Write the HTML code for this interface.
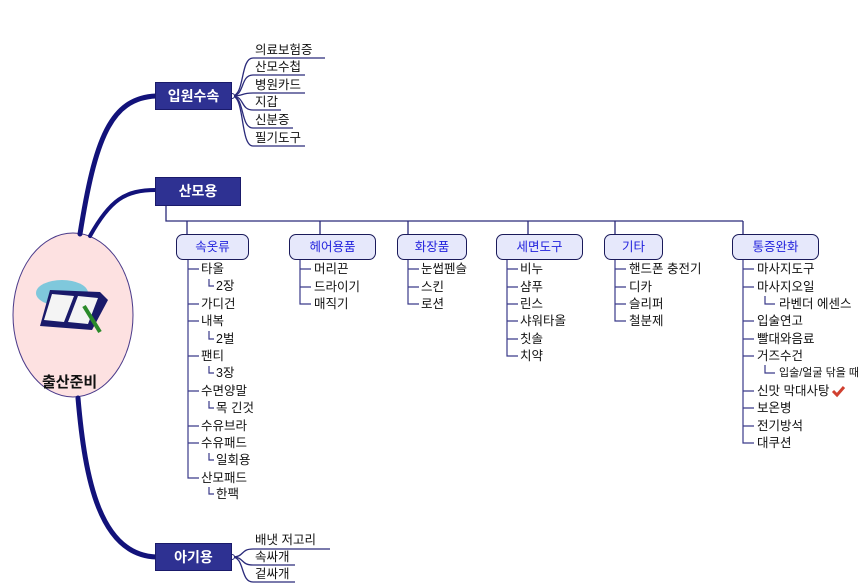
<!DOCTYPE html>
<html><head><meta charset="utf-8"><style>
body{margin:0;background:#fff;width:859px;height:585px;overflow:hidden;position:relative;font-family:"Liberation Sans","Noto Sans CJK KR","NanumGothic",sans-serif;}
.t{position:absolute;font-size:12.5px;color:#111;line-height:14px;white-space:nowrap}
.bx{position:absolute;background:#2e3192;color:#fff;font-weight:bold;font-size:14px;text-align:center;border:1px solid #1a1a6a;box-sizing:border-box}
.cb{position:absolute;background:#e6e8fb;border:1px solid #1a1a5a;border-radius:7px;color:#2222dd;font-size:12.5px;text-align:center;box-sizing:border-box;height:26px;line-height:24px;top:234px}
</style></head><body>
<svg width="859" height="585" style="position:absolute;left:0;top:0">
<ellipse cx="73" cy="315" rx="60" ry="82" fill="#fde1e1" stroke="#4a3a8a" stroke-width="1"/>
<g fill="none" stroke="#12127a" stroke-linecap="round">
<path d="M80 234 C95 140 110 98 156 96" stroke-width="5"/>
<path d="M90 236 C110 200 125 190 156 190" stroke-width="4"/>
<path d="M78 398 C85 480 100 555 156 557" stroke-width="5"/>
</g>
<g fill="none" stroke="#2a2a7a" stroke-width="1.3">
<path d="M232 96 C245 96 240 58 253 58 L325 58"/>
<path d="M232 96 C245 96 240 75 253 75 L305 75"/>
<path d="M232 96 C245 96 240 93 253 93 L305 93"/>
<path d="M232 96 C245 96 240 110 253 110 L281 110"/>
<path d="M232 96 C245 96 240 128 253 128 L293 128"/>
<path d="M232 96 C245 96 240 146 253 146 L305 146"/>
<path d="M232 557 C245 557 240 549 253 549 L330 549"/>
<path d="M232 557 C245 557 240 565 253 565 L295 565"/>
<path d="M232 557 C245 557 240 582 253 582 L295 582"/>
<path d="M166 206 V221 H743 M187 221 V234 M320 221 V234 M408 221 V234 M528 221 V234 M615 221 V234 M743 221 V234"/>
</g>
<g fill="none" stroke="#3a3a8a" stroke-width="1.2">
<path d="M188 260 V478 H199 M188 269 H199 M188 304 H199 M188 321 H199 M188 356 H199 M188 391 H199 M188 426 H199 M188 443 H199"/>
<path d="M209 279 V286 H214 M209 331 V339 H214 M209 366 V373 H214 M209 401 V408 H214 M209 453 V460 H214 M209 487 V494 H214"/>
<path d="M300 260 V304 H311 M300 269 H311 M300 287 H311"/>
<path d="M408 260 V304 H419 M408 269 H419 M408 287 H419"/>
<path d="M507 260 V356 H518 M507 269 H518 M507 287 H518 M507 304 H518 M507 321 H518 M507 339 H518"/>
<path d="M615 260 V321 H626 M615 269 H626 M615 287 H626 M615 304 H626"/>
<path d="M743 260 V443 H754 M743 269 H754 M743 287 H754 M743 321 H754 M743 339 H754 M743 356 H754 M743 391 H754 M743 408 H754 M743 426 H754"/>
<path d="M765 296 V304 H775 M765 365 V373 H775"/>
</g>
<circle cx="232" cy="96" r="2.5" fill="#fff" stroke="#2a2a7a"/>
<circle cx="232" cy="557" r="2.5" fill="#fff" stroke="#2a2a7a"/>
<ellipse cx="62" cy="293" rx="26" ry="13" fill="#7fc8dc"/>
<path d="M50 290 L100 292 L108 300 L92 330 L40 326 Z" fill="#1a1a6a"/>
<path d="M52 294 L74 296 L64 322 L44 320 Z M78 296 L98 298 L88 324 L68 322 Z" fill="#f4f4f4"/>
<path d="M84 306 L100 332" stroke="#2a8a2a" stroke-width="4"/>
<path d="M833 391 l4 4 l7 -8" stroke="#d04030" stroke-width="3" fill="none"/>
</svg>
<div class="t" style="left:42px;top:374px;font-size:15px;line-height:17px;font-weight:bold;">출산준비</div>
<div class="bx" style="left:155px;top:82px;width:77px;height:28px;line-height:26px">입원수속</div>
<div class="bx" style="left:155px;top:177px;width:86px;height:29px;line-height:27px">산모용</div>
<div class="bx" style="left:155px;top:543px;width:77px;height:28px;line-height:26px">아기용</div>
<div class="t" style="left:255px;top:43px">의료보험증</div>
<div class="t" style="left:255px;top:60px">산모수첩</div>
<div class="t" style="left:255px;top:78px">병원카드</div>
<div class="t" style="left:255px;top:95px">지갑</div>
<div class="t" style="left:255px;top:113px">신분증</div>
<div class="t" style="left:255px;top:131px">필기도구</div>
<div class="t" style="left:255px;top:533px">배냇 저고리</div>
<div class="t" style="left:255px;top:550px">속싸개</div>
<div class="t" style="left:255px;top:567px">겉싸개</div>
<div class="cb" style="left:176px;width:73px">속옷류</div>
<div class="cb" style="left:289px;width:87px">헤어용품</div>
<div class="cb" style="left:397px;width:70px">화장품</div>
<div class="cb" style="left:496px;width:87px">세면도구</div>
<div class="cb" style="left:604px;width:59px">기타</div>
<div class="cb" style="left:732px;width:87px">통증완화</div>
<div class="t" style="left:201px;top:262px">타올</div>
<div class="t" style="left:216px;top:279px">2장</div>
<div class="t" style="left:201px;top:297px">가디건</div>
<div class="t" style="left:201px;top:314px">내복</div>
<div class="t" style="left:216px;top:332px">2벌</div>
<div class="t" style="left:201px;top:349px">팬티</div>
<div class="t" style="left:216px;top:366px">3장</div>
<div class="t" style="left:201px;top:384px">수면양말</div>
<div class="t" style="left:216px;top:401px">목 긴것</div>
<div class="t" style="left:201px;top:419px">수유브라</div>
<div class="t" style="left:201px;top:436px">수유패드</div>
<div class="t" style="left:216px;top:453px">일회용</div>
<div class="t" style="left:201px;top:471px">산모패드</div>
<div class="t" style="left:216px;top:487px">한팩</div>
<div class="t" style="left:314px;top:262px">머리끈</div>
<div class="t" style="left:314px;top:280px">드라이기</div>
<div class="t" style="left:314px;top:297px">매직기</div>
<div class="t" style="left:421px;top:262px">눈썹펜슬</div>
<div class="t" style="left:421px;top:280px">스킨</div>
<div class="t" style="left:421px;top:297px">로션</div>
<div class="t" style="left:520px;top:262px">비누</div>
<div class="t" style="left:520px;top:280px">샴푸</div>
<div class="t" style="left:520px;top:297px">린스</div>
<div class="t" style="left:520px;top:314px">샤워타올</div>
<div class="t" style="left:520px;top:332px">칫솔</div>
<div class="t" style="left:520px;top:349px">치약</div>
<div class="t" style="left:629px;top:262px">핸드폰 충전기</div>
<div class="t" style="left:629px;top:280px">디카</div>
<div class="t" style="left:629px;top:297px">슬리퍼</div>
<div class="t" style="left:629px;top:314px">철분제</div>
<div class="t" style="left:757px;top:262px">마사지도구</div>
<div class="t" style="left:757px;top:280px">마사지오일</div>
<div class="t" style="left:779px;top:297px">라벤더 에센스</div>
<div class="t" style="left:757px;top:314px">입술연고</div>
<div class="t" style="left:757px;top:332px">빨대와음료</div>
<div class="t" style="left:757px;top:349px">거즈수건</div>
<div class="t" style="left:779px;top:366px;font-size:11px">입술/얼굴 닦을 때</div>
<div class="t" style="left:757px;top:384px">신맛 막대사탕</div>
<div class="t" style="left:757px;top:401px">보온병</div>
<div class="t" style="left:757px;top:419px">전기방석</div>
<div class="t" style="left:757px;top:436px">대쿠션</div>
</body></html>
